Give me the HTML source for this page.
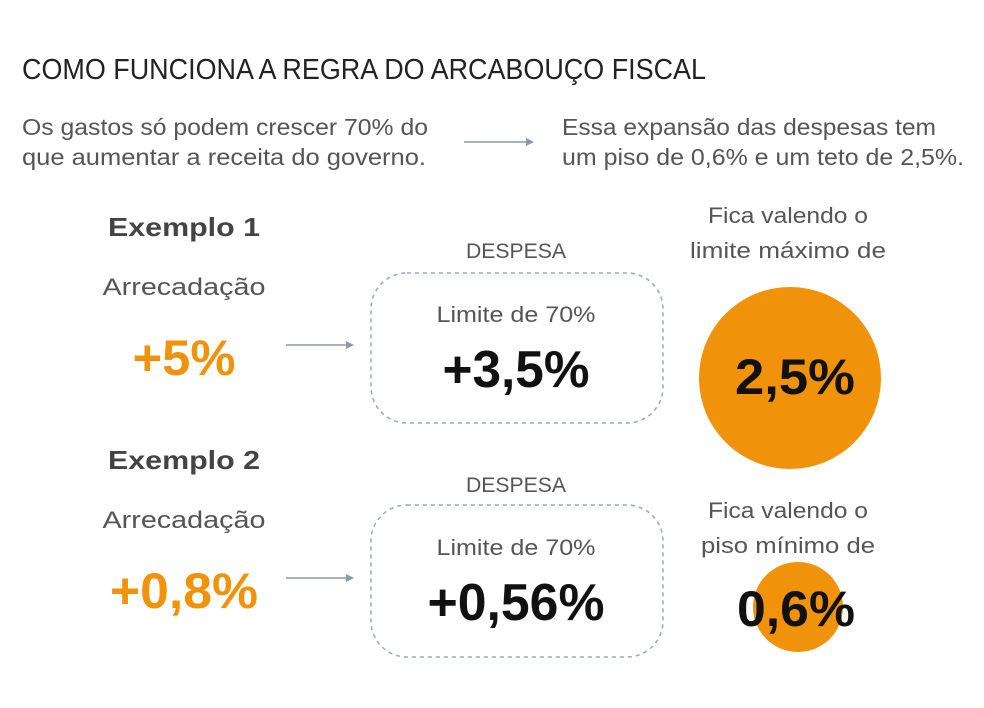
<!DOCTYPE html>
<html><head><meta charset="utf-8"><style>
html,body{margin:0;padding:0;background:#fff;}
svg{display:block;font-family:"Liberation Sans",sans-serif;}
</style></head><body>
<svg width="984" height="708" viewBox="0 0 984 708" xmlns="http://www.w3.org/2000/svg">
<rect width="984" height="708" fill="#fff"/>
<text x="22" y="79" font-size="29" fill="#222" textLength="684" lengthAdjust="spacingAndGlyphs">COMO FUNCIONA A REGRA DO ARCABOUÇO FISCAL</text>
<g font-size="23" fill="#555">
<text x="22" y="135" textLength="406" lengthAdjust="spacingAndGlyphs">Os gastos só podem crescer 70% do</text>
<text x="22" y="165" textLength="404" lengthAdjust="spacingAndGlyphs">que aumentar a receita do governo.</text>
<text x="562" y="135" textLength="374" lengthAdjust="spacingAndGlyphs">Essa expansão das despesas tem</text>
<text x="562" y="165" textLength="402" lengthAdjust="spacingAndGlyphs">um piso de 0,6% e um teto de 2,5%.</text>
</g>
<g stroke="#8a9bab" stroke-width="1.5" fill="#8a9bab">
<line x1="464" y1="142" x2="528" y2="142"/><path d="M526 138 L534 142 L526 146Z" stroke="none"/>
<line x1="286" y1="345" x2="348" y2="345"/><path d="M346 341 L354 345 L346 349Z" stroke="none"/>
<line x1="286" y1="578" x2="348" y2="578"/><path d="M346 574 L354 578 L346 582Z" stroke="none"/>
</g>
<g text-anchor="middle">
<text x="184" y="236" font-size="26" font-weight="bold" fill="#444" textLength="152" lengthAdjust="spacingAndGlyphs">Exemplo 1</text>
<text x="184" y="295" font-size="24" fill="#555" textLength="163" lengthAdjust="spacingAndGlyphs">Arrecadação</text>
<text x="184" y="375" font-size="50" font-weight="bold" fill="#f0920a" textLength="103" lengthAdjust="spacingAndGlyphs">+5%</text>
<text x="184" y="469" font-size="26" font-weight="bold" fill="#444" textLength="152" lengthAdjust="spacingAndGlyphs">Exemplo 2</text>
<text x="184" y="528" font-size="24" fill="#555" textLength="163" lengthAdjust="spacingAndGlyphs">Arrecadação</text>
<text x="184" y="608" font-size="50" font-weight="bold" fill="#f0920a" textLength="148" lengthAdjust="spacingAndGlyphs">+0,8%</text>

<text x="516" y="258" font-size="21" fill="#555" textLength="100" lengthAdjust="spacingAndGlyphs">DESPESA</text>
<rect x="371" y="273" width="292" height="150" rx="36" fill="none" stroke="#9aa8b5" stroke-width="1.5" stroke-dasharray="4,4"/>
<text x="516" y="322" font-size="22" fill="#555" textLength="159" lengthAdjust="spacingAndGlyphs">Limite de 70%</text>
<text x="516" y="387" font-size="52" font-weight="bold" fill="#111" textLength="147" lengthAdjust="spacingAndGlyphs">+3,5%</text>

<text x="516" y="492" font-size="21" fill="#555" textLength="100" lengthAdjust="spacingAndGlyphs">DESPESA</text>
<rect x="371" y="505" width="292" height="152" rx="36" fill="none" stroke="#9aa8b5" stroke-width="1.5" stroke-dasharray="4,4"/>
<text x="516" y="555" font-size="22" fill="#555" textLength="159" lengthAdjust="spacingAndGlyphs">Limite de 70%</text>
<text x="516" y="620" font-size="52" font-weight="bold" fill="#111" textLength="177" lengthAdjust="spacingAndGlyphs">+0,56%</text>

<text x="788" y="223" font-size="22" fill="#555" textLength="160" lengthAdjust="spacingAndGlyphs">Fica valendo o</text>
<text x="788" y="258" font-size="22" fill="#555" textLength="196" lengthAdjust="spacingAndGlyphs">limite máximo de</text>
<circle cx="790" cy="378" r="91" fill="#f0920a"/>
<text x="795" y="394" font-size="50" font-weight="bold" fill="#111" textLength="120" lengthAdjust="spacingAndGlyphs">2,5%</text>

<text x="788" y="518" font-size="22" fill="#555" textLength="160" lengthAdjust="spacingAndGlyphs">Fica valendo o</text>
<text x="788" y="553" font-size="22" fill="#555" textLength="174" lengthAdjust="spacingAndGlyphs">piso mínimo de</text>
<circle cx="798" cy="607" r="45" fill="#f0920a"/>
<text x="796" y="626" font-size="50" font-weight="bold" fill="#111" textLength="118" lengthAdjust="spacingAndGlyphs">0,6%</text>
</g>
</svg>
</body></html>
